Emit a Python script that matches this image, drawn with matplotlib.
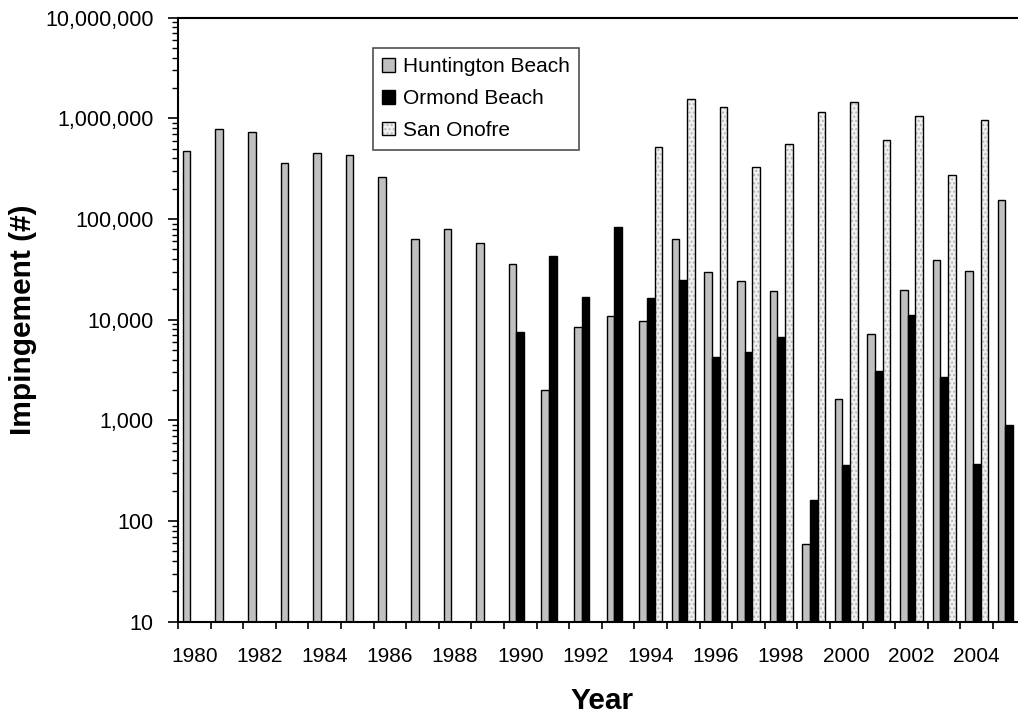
import numpy as np
import matplotlib
matplotlib.use('Agg')
import matplotlib.pyplot as plt
from matplotlib.ticker import FuncFormatter, LogLocator, NullFormatter

plt.rcParams['font.family'] = ['Liberation Sans', 'DejaVu Sans']

nan = np.nan
years = list(range(1980, 2006))
huntington = [470000, 790000, 730000, 360000, 450000, 435000, 260000, 63500, 80500, 58000,
              36000, 2000, 8500, 10800, 9600, 63500, 30000, 24500, 19200, 59,
              1620, 7200, 19800, 39300, 30800, 153000]
ormond = [nan] * 10 + [7600, 43000, 17000, 83500, 16500, 24700, 4260, 4790, 6700, 160,
                       364, 3080, 11200, 2700, 372, 893]
san_onofre = [nan] * 14 + [522000, 1545000, 1285000, 330000, 552000, 1148000,
                           1452000, 608000, 1047000, 271000, 955000, nan]
labels = ['Huntington Beach', 'Ormond Beach', 'San Onofre']

W, H = 1018, 715
fig = plt.figure(figsize=(W / 100, H / 100), dpi=100)
# plot area runs a little past the right edge of the figure
ax = fig.add_axes([178 / W, 93.3 / H, 847.6 / W, 604 / H])

x = np.arange(len(years))
bw = 0.236

ax.set_yscale('log')
hb = ax.bar(x - bw, huntington, bw, color='#c0c0c0', edgecolor='black', linewidth=1.0)
ob = ax.bar(x, ormond, bw, color='black', edgecolor='black', linewidth=1.0)
# dotted fill underneath, plain outline on top
so_fill = ax.bar(x + bw, san_onofre, bw, color='#f0f0f0', edgecolor='#b8b8b8',
                 linewidth=0, hatch='....')
so_edge = ax.bar(x + bw, san_onofre, bw, facecolor='none', edgecolor='black', linewidth=1.0)

ax.set_ylim(10, 1e7)
ax.set_xlim(-0.5, len(years) - 0.5)

ax.yaxis.set_major_locator(LogLocator(base=10))
ax.yaxis.set_minor_locator(LogLocator(base=10, subs=np.arange(2, 10)))
ax.yaxis.set_minor_formatter(NullFormatter())
ax.yaxis.set_major_formatter(FuncFormatter(lambda v, p: f'{v:,.0f}'))

# tick marks between categories, labels on every other year
ax.set_xticks(np.arange(-0.5, len(years), 1))
ax.set_xticklabels([])
ax.set_xticks(x[::2], [str(y) for y in years[::2]], minor=True)

ax.tick_params(axis='y', which='major', length=7.5, width=1.2, pad=10, labelsize=15.5)
ax.tick_params(axis='y', which='minor', length=4, width=1.0)
ax.tick_params(axis='x', which='major', length=5, width=1.2)
ax.tick_params(axis='x', which='minor', length=0, pad=18, labelsize=15)

for s in ['left', 'bottom', 'top']:
    ax.spines[s].set_linewidth(1.5)
ax.spines['right'].set_visible(False)

fig.text(0.0222, 1 - 320 / H, 'Impingement (#)', rotation=90, ha='center', va='center',
         fontsize=21.5, fontweight='bold')
fig.text(602.5 / W, 1 - 709 / H, 'Year', ha='center', va='baseline',
         fontsize=21.5, fontweight='bold')

leg = ax.legend([hb, ob, (so_fill, so_edge)], labels,
                loc='upper left', bbox_to_anchor=(372.7 / W, 1 - 48 / H),
                bbox_transform=fig.transFigure, fontsize=15, frameon=True,
                fancybox=False, handlelength=0.6, handleheight=0.6,
                handletextpad=0.4, labelspacing=0.62, borderpad=0.45,
                borderaxespad=0)
leg.get_frame().set_edgecolor('#222222')
leg.get_frame().set_linewidth(1.2)

fig.savefig('out.png', dpi=100)
